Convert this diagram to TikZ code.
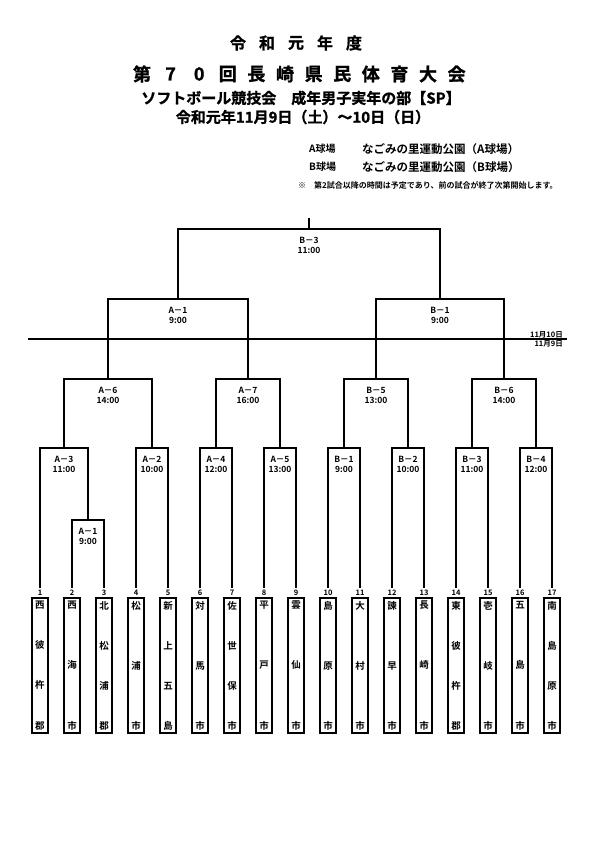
\documentclass[tikz,border=0pt]{standalone}
\usepackage{fontspec}
\setmainfont{Noto Sans CJK JP}[BoldFont={Noto Sans CJK JP Bold}]
\newfontfamily\heavy{Noto Sans CJK JP Bold}[FakeBold=1.2]
\usetikzlibrary{calc}
\newcommand\fsz[1]{\fontsize{#1}{#1}\selectfont}
\newcommand\vf{\par\vfill}
\tikzset{
  br/.style={line width=2.2pt, line join=miter},
  mlab/.style={font=\bfseries\fontsize{8.5}{10.5}\selectfont, align=center, inner sep=0pt},
  teambox/.style={draw, line width=1.8pt, minimum width=16pt, minimum height=135pt, inner sep=0pt, font=\bfseries\fsz{9.5}},
  numlbl/.style={font=\bfseries\fsz{7.5}, inner sep=0pt},
  ttl/.style={font=\heavy\fsz{#1}, inner sep=0pt},
  small/.style={font=\bfseries\fsz{#1}, inner sep=0pt, anchor=west},
}
\newcommand\team[2]{%
  \node[teambox] (t#1) at ({40+32*(#1-1)},665.5) {\parbox[c][128pt][s]{12pt}{\centering #2}};
  \node[numlbl] (n#1) at ({40+32*(#1-1)},592.5) {#1};
  \coordinate (e#1) at ({40+32*(#1-1)},588);
}
\begin{document}
\begin{tikzpicture}[x=1pt,y=-1pt]
\fill[white] (0,0) rectangle (595,842);
\useasboundingbox (0,0) rectangle (595,842);

% titles
\foreach \c [count=\i] in {令,和,元,年,度}
  \node[ttl=16] (h1-\i) at ({238+29*(\i-1)},43) {\c};
\foreach \c [count=\i] in {第,7,0,回,長,崎,県,民,体,育,大,会}
  \node[ttl=18] (h2-\i) at ({142+28.6*(\i-1)},74) {\c};
\node[ttl=15] (h3) at (301,98) {ソフトボール競技会　成年男子実年の部【SP】};
\node[ttl=15] (h4) at (303,117) {令和元年11月9日（土）～10日（日）};

% venues
\node[small=10] (va) at (309,149) {A球場};
\node[small=11.5] (vaa) at (362,149) {なごみの里運動公園（A球場）};
\node[small=10] (vb) at (309,167) {B球場};
\node[small=11.5] (vbb) at (362,167) {なごみの里運動公園（B球場）};
\node[small=8] (note) at (298,185) {※　第2試合以降の時間は予定であり、前の試合が終了次第開始します。};

% teams
\team{1}{西\vf 彼\vf 杵\vf 郡}
\team{2}{西\vf 海\vf 市}
\team{3}{北\vf 松\vf 浦\vf 郡}
\team{4}{松\vf 浦\vf 市}
\team{5}{新\vf 上\vf 五\vf 島}
\team{6}{対\vf 馬\vf 市}
\team{7}{佐\vf 世\vf 保\vf 市}
\team{8}{平\vf 戸\vf 市}
\team{9}{雲\vf 仙\vf 市}
\team{10}{島\vf 原\vf 市}
\team{11}{大\vf 村\vf 市}
\team{12}{諫\vf 早\vf 市}
\team{13}{長\vf 崎\vf 市}
\team{14}{東\vf 彼\vf 杵\vf 郡}
\team{15}{壱\vf 岐\vf 市}
\team{16}{五\vf 島\vf 市}
\team{17}{南\vf 島\vf 原\vf 市}

% match top points
\coordinate (p1)  at (88,520);
\coordinate (qA3) at (64,448);
\coordinate (qA2) at (152,448);
\coordinate (qA4) at (216,448);
\coordinate (qA5) at (280,448);
\coordinate (qB1) at (344,448);
\coordinate (qB2) at (408,448);
\coordinate (qB3) at (472,448);
\coordinate (qB4) at (536,448);
\coordinate (rA6) at (108,379);
\coordinate (rA7) at (248,379);
\coordinate (rB5) at (376,379);
\coordinate (rB6) at (504,379);
\coordinate (sA1) at (178,299);
\coordinate (sB1) at (440,299);
\coordinate (fin) at (309,229);
\coordinate (top) at (309,218);

% brackets
\draw[br] (e2) |- (p1) -| (e3);
\draw[br] (e1) |- (qA3) -| (p1);
\draw[br] (e4) |- (qA2) -| (e5);
\draw[br] (e6) |- (qA4) -| (e7);
\draw[br] (e8) |- (qA5) -| (e9);
\draw[br] (e10) |- (qB1) -| (e11);
\draw[br] (e12) |- (qB2) -| (e13);
\draw[br] (e14) |- (qB3) -| (e15);
\draw[br] (e16) |- (qB4) -| (e17);
\draw[br] (qA3) |- (rA6) -| (qA2);
\draw[br] (qA4) |- (rA7) -| (qA5);
\draw[br] (qB1) |- (rB5) -| (qB2);
\draw[br] (qB3) |- (rB6) -| (qB4);
\draw[br] (rA6) |- (sA1) -| (rA7);
\draw[br] (rB5) |- (sB1) -| (rB6);
\draw[br] (sA1) |- (fin) -| (sB1);
\draw[br] (fin) -- (top);

% labels
\node[mlab] (lp1)  at ($(p1)+(0,16.25)$)  {A－1\\9:00};
\node[mlab] (lqA3) at ($(qA3)+(0,16.25)$) {A－3\\11:00};
\node[mlab] (lqA2) at ($(qA2)+(0,16.25)$) {A－2\\10:00};
\node[mlab] (lqA4) at ($(qA4)+(0,16.25)$) {A－4\\12:00};
\node[mlab] (lqA5) at ($(qA5)+(0,16.25)$) {A－5\\13:00};
\node[mlab] (lqB1) at ($(qB1)+(0,16.25)$) {B－1\\9:00};
\node[mlab] (lqB2) at ($(qB2)+(0,16.25)$) {B－2\\10:00};
\node[mlab] (lqB3) at ($(qB3)+(0,16.25)$) {B－3\\11:00};
\node[mlab] (lqB4) at ($(qB4)+(0,16.25)$) {B－4\\12:00};
\node[mlab] (lrA6) at ($(rA6)+(0,16.25)$) {A－6\\14:00};
\node[mlab] (lrA7) at ($(rA7)+(0,16.25)$) {A－7\\16:00};
\node[mlab] (lrB5) at ($(rB5)+(0,16.25)$) {B－5\\13:00};
\node[mlab] (lrB6) at ($(rB6)+(0,16.25)$) {B－6\\14:00};
\node[mlab] (lsA1) at ($(sA1)+(0,16.25)$) {A－1\\9:00};
\node[mlab] (lsB1) at ($(sB1)+(0,16.25)$) {B－1\\9:00};
\node[mlab] (lfin) at ($(fin)+(0,16.25)$) {B－3\\11:00};

% day line
\coordinate (dl) at (28,339);
\coordinate (dr) at (567,339);
\draw[br] (dl) -- (dr);
\node[font=\bfseries\fsz{7.5}, inner sep=0pt, anchor=east] (d10) at (563,334.5) {11月10日};
\node[font=\bfseries\fsz{7.5}, inner sep=0pt, anchor=east] (d9) at (563,344) {11月9日};
\end{tikzpicture}
\end{document}
